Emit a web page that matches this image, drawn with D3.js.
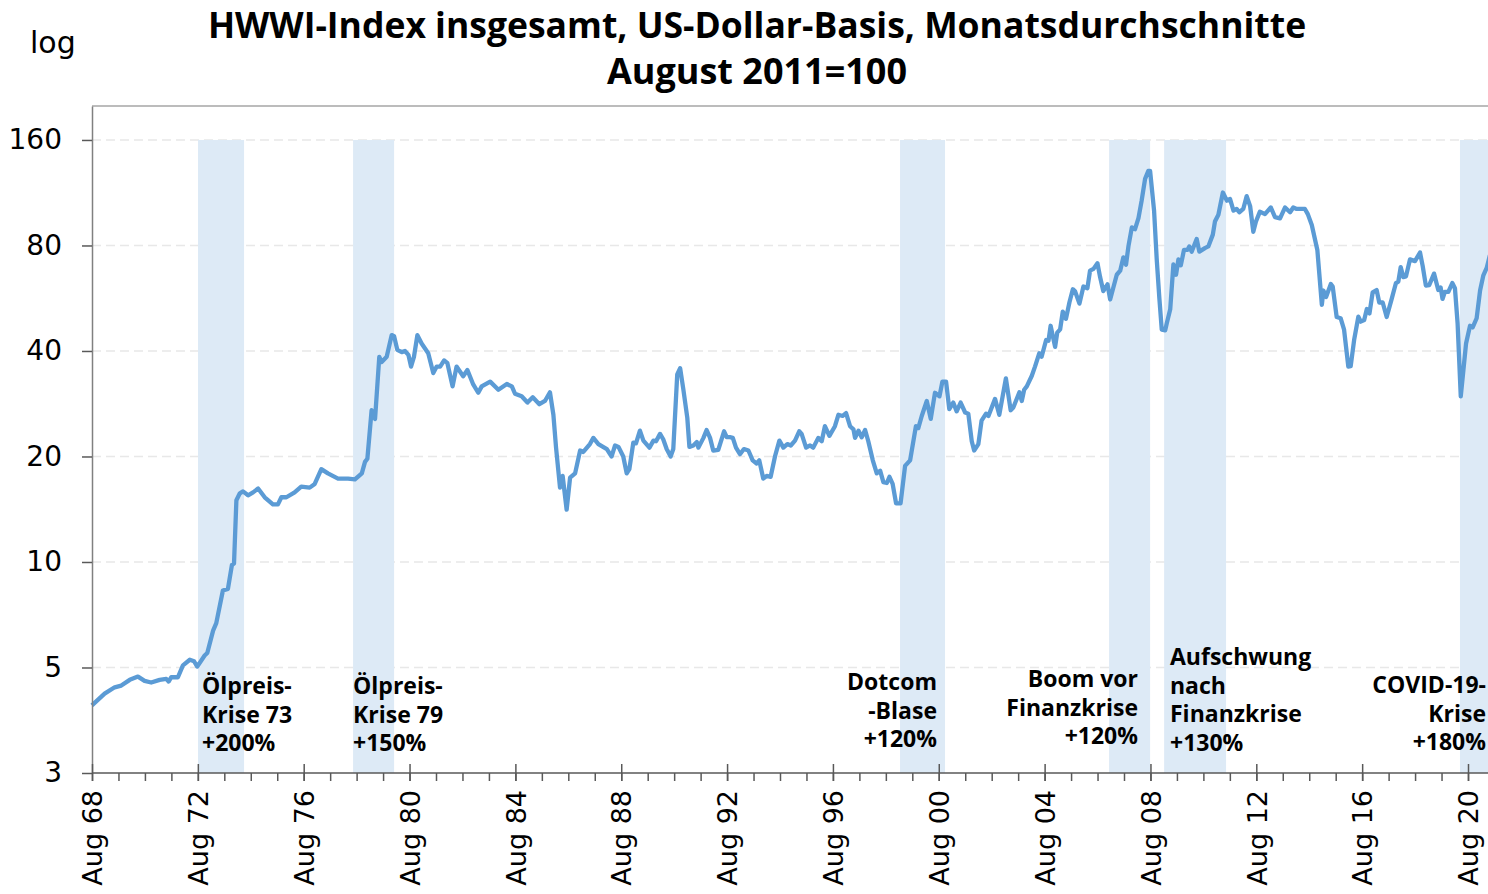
<!DOCTYPE html>
<html>
<head>
<meta charset="utf-8">
<script src="https://cdn.jsdelivr.net/npm/d3@7"></script>
<style>
  body { margin: 0; background: #fff; }
  svg { display: block; font-family: "DejaVu Sans", sans-serif; }
  .bold { font-family: "Open Sans", sans-serif; font-weight: 700; }
</style>
</head>
<body>
<svg width="1488" height="894"></svg>
<script>
// HWWI-Index (US-Dollar, Aug 2011 = 100), [decimal year, index]
const hwwi1968_77 = [
  [1968.58, 3.9], [1969.06, 4.21], [1969.44, 4.39], [1969.69, 4.44], [1970.01, 4.61], [1970.32, 4.71],
  [1970.57, 4.58], [1970.82, 4.53], [1971.14, 4.61], [1971.39, 4.64], [1971.48, 4.56], [1971.58, 4.69],
  [1971.83, 4.69], [1972.02, 5.07], [1972.28, 5.26], [1972.44, 5.21], [1972.56, 5.03], [1972.84, 5.41],
  [1972.94, 5.5], [1973.16, 6.37], [1973.28, 6.69], [1973.53, 8.29], [1973.72, 8.38], [1973.87, 9.8],
  [1973.95, 9.9], [1974.04, 15.0], [1974.17, 15.7], [1974.29, 15.9], [1974.48, 15.5], [1974.67, 15.8],
  [1974.86, 16.2], [1975.11, 15.3], [1975.42, 14.6], [1975.61, 14.6], [1975.74, 15.3], [1975.93, 15.3],
  [1976.24, 15.8], [1976.49, 16.4], [1976.81, 16.3], [1977.0, 16.7], [1977.25, 18.4], [1977.5, 17.9],
  [1977.88, 17.3]
];
const hwwi1978_87 = [
  [1978.26, 17.3], [1978.52, 17.2], [1978.78, 17.9], [1978.9, 19.3], [1978.99, 19.7], [1979.15, 27.1],
  [1979.28, 25.6], [1979.44, 38.5], [1979.53, 37.2], [1979.72, 38.5], [1979.91, 44.4], [1980.0, 44.1],
  [1980.12, 40.3], [1980.29, 39.7], [1980.41, 40.0], [1980.54, 39.0], [1980.64, 36.1], [1980.75, 38.5],
  [1980.88, 44.4], [1981.04, 42.0], [1981.29, 39.4], [1981.48, 34.6], [1981.61, 36.1], [1981.74, 36.1],
  [1981.89, 37.6], [1982.01, 37.0], [1982.21, 31.7], [1982.36, 36.1], [1982.61, 33.9], [1982.77, 35.3],
  [1982.99, 32.1], [1983.18, 30.4], [1983.31, 31.7], [1983.63, 32.7], [1983.94, 31.0], [1984.26, 32.2],
  [1984.45, 31.7], [1984.57, 30.2], [1984.82, 29.7], [1985.04, 28.5], [1985.24, 29.5], [1985.49, 28.2],
  [1985.7, 28.8], [1985.89, 30.5], [1986.02, 26.3], [1986.12, 21.2], [1986.27, 16.3], [1986.37, 17.6],
  [1986.52, 14.1], [1986.65, 17.4], [1986.84, 17.9], [1987.03, 20.8], [1987.15, 20.6], [1987.4, 21.7],
  [1987.53, 22.6], [1987.72, 21.7]
];
const hwwi1988_99 = [
  [1988.04, 21.0], [1988.22, 20.0], [1988.35, 21.5], [1988.48, 21.3], [1988.66, 20.0], [1988.79, 17.9],
  [1988.89, 18.4], [1989.04, 21.9], [1989.14, 21.8], [1989.29, 23.7], [1989.42, 22.2], [1989.65, 21.2],
  [1989.8, 22.2], [1989.9, 22.1], [1990.05, 23.2], [1990.17, 22.4], [1990.3, 21.0], [1990.45, 20.0],
  [1990.55, 21.0], [1990.7, 34.3], [1990.81, 35.7], [1990.93, 31.1], [1991.08, 25.8], [1991.16, 21.3],
  [1991.31, 21.5], [1991.44, 22.0], [1991.5, 21.2], [1991.69, 22.6], [1991.81, 23.8], [1991.94, 22.6],
  [1992.06, 20.8], [1992.25, 20.9], [1992.47, 23.6], [1992.57, 22.7], [1992.69, 22.7], [1992.8, 22.6],
  [1992.92, 21.2], [1993.07, 20.3], [1993.22, 21.0], [1993.39, 20.8], [1993.55, 19.5], [1993.7, 19.1],
  [1993.8, 19.5], [1993.95, 17.3], [1994.08, 17.6], [1994.23, 17.5], [1994.4, 20.1], [1994.56, 22.2],
  [1994.71, 21.2], [1994.86, 21.7], [1994.99, 21.5], [1995.15, 22.2], [1995.31, 23.6], [1995.4, 23.2],
  [1995.57, 21.2], [1995.72, 21.5], [1995.84, 21.2], [1996.03, 22.6], [1996.16, 22.1], [1996.28, 24.4],
  [1996.45, 22.9], [1996.66, 24.4], [1996.79, 26.3], [1996.95, 26.1], [1997.08, 26.6], [1997.23, 24.4],
  [1997.36, 23.9], [1997.42, 22.6], [1997.55, 23.7], [1997.67, 22.7], [1997.8, 23.8], [1997.92, 22.1],
  [1998.09, 19.5], [1998.24, 17.9], [1998.37, 18.2], [1998.49, 16.9], [1998.62, 16.8], [1998.72, 17.5],
  [1998.84, 16.7], [1998.97, 14.7], [1999.14, 14.7], [1999.31, 18.8], [1999.5, 19.5], [1999.72, 24.4],
  [1999.81, 24.1], [1999.94, 26.1]
];
const hwwi2000_09 = [
  [2000.13, 28.8], [2000.28, 25.6], [2000.44, 30.4], [2000.61, 29.7], [2000.72, 32.7], [2000.86, 32.7],
  [2000.98, 27.3], [2001.13, 28.5], [2001.26, 26.9], [2001.41, 28.5], [2001.58, 26.7], [2001.7, 26.5],
  [2001.83, 22.1], [2001.92, 20.8], [2002.08, 21.7], [2002.2, 25.3], [2002.37, 26.5], [2002.46, 26.1],
  [2002.71, 29.2], [2002.87, 26.3], [2003.12, 33.4], [2003.3, 27.1], [2003.4, 27.6], [2003.63, 30.5],
  [2003.72, 28.8], [2003.81, 31.0], [2003.91, 31.7], [2004.1, 34.0], [2004.22, 36.1], [2004.38, 39.4],
  [2004.47, 38.5], [2004.64, 43.0], [2004.73, 42.8], [2004.81, 47.2], [2004.98, 41.1], [2005.06, 45.1],
  [2005.17, 46.1], [2005.27, 51.8], [2005.39, 49.4], [2005.52, 55.0], [2005.65, 60.0], [2005.73, 59.3],
  [2005.9, 54.6], [2006.05, 61.1], [2006.2, 60.4], [2006.3, 67.8], [2006.43, 68.6], [2006.58, 71.2],
  [2006.68, 65.0], [2006.8, 59.3], [2006.96, 62.0], [2007.06, 56.1], [2007.31, 66.0], [2007.44, 67.8],
  [2007.56, 74.0], [2007.66, 70.5], [2007.75, 79.5], [2007.88, 90.1], [2008.0, 89.0], [2008.13, 95.8],
  [2008.25, 107.4], [2008.38, 123.9], [2008.5, 130.5], [2008.57, 130.5], [2008.72, 100.5], [2008.82, 73.0],
  [2008.92, 56.5], [2009.01, 46.0], [2009.14, 45.8], [2009.2, 48.0], [2009.33, 52.6], [2009.45, 70.6],
  [2009.55, 66.0], [2009.64, 73.0], [2009.73, 70.2], [2009.85, 77.7], [2009.98, 77.7]
];
const hwwi2010_21 = [
  [2010.05, 79.5], [2010.14, 76.8], [2010.33, 83.5], [2010.43, 76.8], [2010.64, 78.6], [2010.77, 79.5],
  [2010.94, 85.9], [2011.02, 93.6], [2011.15, 97.9], [2011.32, 113.3], [2011.47, 107.4], [2011.59, 108.6],
  [2011.72, 100.6], [2011.84, 101.7], [2011.94, 99.5], [2012.09, 101.7], [2012.22, 110.6], [2012.35, 103.6],
  [2012.47, 87.5], [2012.57, 93.6], [2012.72, 99.9], [2012.91, 98.3], [2013.13, 102.7], [2013.29, 96.4],
  [2013.48, 95.6], [2013.67, 102.7], [2013.86, 99.5], [2013.98, 102.7], [2014.11, 101.7], [2014.42, 101.7],
  [2014.53, 98.3], [2014.68, 91.5], [2014.89, 77.7], [2015.06, 54.2], [2015.12, 59.5], [2015.22, 57.0],
  [2015.4, 62.1], [2015.47, 61.1], [2015.62, 50.0], [2015.77, 49.6], [2015.9, 46.0], [2016.06, 36.1],
  [2016.15, 36.2], [2016.28, 43.0], [2016.44, 50.1], [2016.53, 48.5], [2016.66, 49.0], [2016.76, 52.7],
  [2016.86, 51.2], [2016.98, 58.8], [2017.13, 59.7], [2017.23, 55.0], [2017.36, 55.0], [2017.51, 50.0],
  [2017.7, 56.3], [2017.86, 62.5], [2017.95, 63.1], [2018.04, 69.4], [2018.14, 65.0], [2018.24, 65.3],
  [2018.39, 73.0], [2018.58, 72.2], [2018.77, 76.4], [2018.87, 70.0], [2018.99, 61.5], [2019.12, 61.7],
  [2019.3, 66.5], [2019.46, 59.7], [2019.55, 60.7], [2019.62, 56.3], [2019.71, 59.0], [2019.84, 59.0],
  [2019.99, 62.5], [2020.09, 60.4], [2020.19, 48.0], [2020.31, 29.7], [2020.41, 35.3], [2020.51, 42.0],
  [2020.66, 47.2], [2020.76, 46.7], [2020.91, 49.6], [2021.04, 59.5], [2021.16, 65.6], [2021.29, 69.0],
  [2021.41, 75.0]
];

const yTicks = [2.5, 5, 10, 20, 40, 80, 160];
const tickYears = d3.range(1968, 2021, 4);          // "Aug 68" ... "Aug 20"
const boomStart = [1972.59, 1978.45, 1999.12, 2007.02, 2009.10, 2020.28];
const boomEnd   = [1974.33, 1980.00, 2000.82, 2008.57, 2011.44, 2021.60];
const boomTop = 160;
const boomLabels = [
  ['Ölpreis-', 'Krise 73', '+200%'],
  ['Ölpreis-', 'Krise 79', '+150%'],
  ['Dotcom', '-Blase', '+120%'],
  ['Boom vor', 'Finanzkrise', '+120%'],
  ['Aufschwung', 'nach', 'Finanzkrise', '+130%'],
  ['COVID-19-', 'Krise', '+180%']
];
// where each label block sits (text layout only)
const labelPos = [
  { x: 202, y: 694, anchor: 'start' },
  { x: 353, y: 694, anchor: 'start' },
  { x: 937, y: 690, anchor: 'end' },
  { x: 1138, y: 687, anchor: 'end' },
  { x: 1170, y: 665, anchor: 'start' },
  { x: 1486, y: 693, anchor: 'end' }
];

const hwwi = [].concat(hwwi1968_77, hwwi1978_87, hwwi1988_99, hwwi2000_09, hwwi2010_21);

const svg = d3.select('svg');
const m = { left: 92, top: 106, bottom: 773, right: 1488 };

const x = d3.scaleLinear().domain([1968 + 7/12, 2020 + 7/12]).range([m.left, 1468]);
const y = d3.scaleLog().base(2).domain([2.5, 200]).range([m.bottom, m.top]);

// dashed gridlines
svg.append('g')
  .selectAll('line')
  .data(yTicks.slice(1))
  .join('line')
  .attr('x1', m.left).attr('x2', m.right)
  .attr('y1', d => y(d)).attr('y2', d => y(d))
  .attr('stroke', '#e8e8e8')
  .attr('stroke-width', 1.5)
  .attr('stroke-dasharray', '9,5');

// shaded boom periods
svg.append('g')
  .selectAll('rect')
  .data(boomStart)
  .join('rect')
  .attr('x', d => x(d))
  .attr('width', (d, i) => x(boomEnd[i]) - x(d))
  .attr('y', y(boomTop))
  .attr('height', y(2.5) - y(boomTop))
  .attr('fill', '#ddeaf6');

// top frame line
svg.append('line')
  .attr('x1', m.left).attr('x2', m.right).attr('y1', m.top).attr('y2', m.top)
  .attr('stroke', '#a6a6a6').attr('stroke-width', 1.5);

// the index line
svg.append('path')
  .datum(hwwi)
  .attr('d', d3.line().x(d => x(d[0])).y(d => y(d[1])))
  .attr('fill', 'none')
  .attr('stroke', '#5b9bd5')
  .attr('stroke-width', 4.3)
  .attr('stroke-linejoin', 'round');

// y axis
const yAxis = svg.append('g')
  .attr('transform', `translate(${m.left},0)`)
  .call(d3.axisLeft(y).tickValues(yTicks).tickFormat(d3.format('.0f'))
    .tickSize(10).tickSizeOuter(0).tickPadding(20));
yAxis.select('.domain').attr('stroke', '#808080').attr('stroke-width', 1.5);
yAxis.selectAll('.tick line').attr('stroke', '#595959').attr('stroke-width', 1.5);
yAxis.selectAll('text').attr('font-size', 28).attr('fill', '#000')
  .attr('font-family', '"DejaVu Sans", sans-serif');

// x axis: minor yearly ticks
svg.append('g')
  .attr('transform', `translate(0,${m.bottom})`)
  .call(d3.axisBottom(x)
    .tickValues(d3.range(1968, 2022).map(yr => yr + 7/12).filter(v => x(v) <= m.right))
    .tickSize(8).tickSizeOuter(0).tickFormat(''))
  .call(g => g.select('.domain').remove())
  .selectAll('line').attr('stroke', '#595959').attr('stroke-width', 1.5);

// x axis: major ticks with rotated labels
const xAxis = svg.append('g')
  .attr('transform', `translate(0,${m.bottom})`)
  .call(d3.axisBottom(x)
    .tickValues(tickYears.map(yr => yr + 7/12))
    .tickSize(8).tickSizeOuter(0)
    .tickFormat(d => 'Aug ' + String(Math.floor(d) % 100).padStart(2, '0')));
xAxis.select('.domain').remove();
xAxis.selectAll('.tick line').attr('y1', -9).attr('stroke', '#595959').attr('stroke-width', 1.5);
xAxis.selectAll('text')
  .attr('transform', 'rotate(-90)')
  .attr('x', -17).attr('y', 0).attr('dy', '0.36em')
  .attr('text-anchor', 'end')
  .attr('font-size', 27).attr('fill', '#000')
  .attr('font-family', '"DejaVu Sans", sans-serif');

svg.append('line')
  .attr('x1', m.left).attr('x2', m.right).attr('y1', m.bottom).attr('y2', m.bottom)
  .attr('stroke', '#595959').attr('stroke-width', 1.5);

// annotations
svg.append('g')
  .selectAll('text')
  .data(boomLabels)
  .join('text')
  .attr('class', 'bold')
  .attr('font-size', 23)
  .attr('text-anchor', (d, i) => labelPos[i].anchor)
  .attr('x', (d, i) => labelPos[i].x)
  .attr('y', (d, i) => labelPos[i].y)
  .selectAll('tspan')
  .data(d => d)
  .join('tspan')
  .attr('x', function () { return this.parentNode.getAttribute('x'); })
  .attr('dy', (d, i) => i ? 28.7 : 0)
  .text(d => d);

// title and unit
svg.append('text')
  .attr('class', 'bold')
  .attr('x', 757).attr('y', 38)
  .attr('text-anchor', 'middle')
  .attr('font-size', 35.5)
  .text('HWWI-Index insgesamt, US-Dollar-Basis, Monatsdurchschnitte');
svg.append('text')
  .attr('class', 'bold')
  .attr('x', 757).attr('y', 84)
  .attr('text-anchor', 'middle')
  .attr('font-size', 36)
  .text('August 2011=100');
svg.append('text')
  .attr('x', 30).attr('y', 53)
  .attr('font-size', 30)
  .text('log');
</script>
</body>
</html>
